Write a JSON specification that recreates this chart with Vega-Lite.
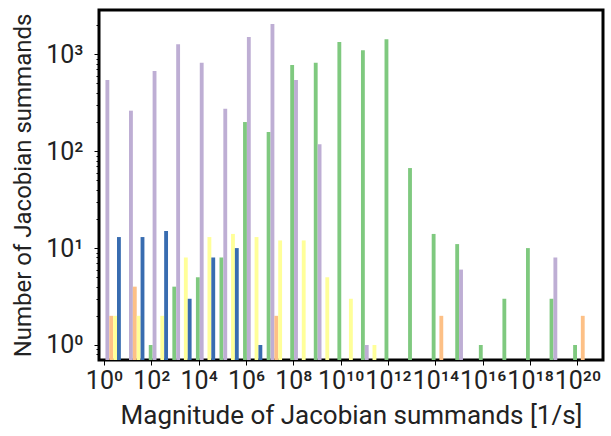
{
  "$schema": "https://vega.github.io/schema/vega-lite/v6.json",
  "width": 504,
  "height": 350,
  "autosize": {"type": "none"},
  "padding": {"left": 99, "top": 10, "right": 8, "bottom": 76},
  "background": "white",
  "config": {
    "view": {"stroke": "black", "strokeWidth": 3},
    "font": "Roboto",
    "axis": {"grid": false, "domain": false, "tickColor": "black", "labelColor": "#222222", "titleColor": "#222222", "labelFontSize": 25, "titleFontSize": 26, "titleFontWeight": "normal", "labelFont": "Roboto", "titleFont": "Roboto"}
  },
  "data": {
    "values": [
      {"series": "purple", "magnitude": 2.02, "count": 543},
      {"series": "orange", "magnitude": 2.02, "count": 2},
      {"series": "yellow", "magnitude": 2.02, "count": 2},
      {"series": "blue", "magnitude": 2.02, "count": 13},
      {"series": "purple", "magnitude": 20.0, "count": 262},
      {"series": "orange", "magnitude": 20.0, "count": 4},
      {"series": "yellow", "magnitude": 20.0, "count": 2},
      {"series": "blue", "magnitude": 20.0, "count": 13},
      {"series": "green", "magnitude": 198.6, "count": 1},
      {"series": "purple", "magnitude": 198.6, "count": 673},
      {"series": "yellow", "magnitude": 198.6, "count": 2},
      {"series": "blue", "magnitude": 198.6, "count": 15},
      {"series": "green", "magnitude": 1968, "count": 4},
      {"series": "purple", "magnitude": 1968, "count": 1268},
      {"series": "yellow", "magnitude": 1968, "count": 8},
      {"series": "blue", "magnitude": 1968, "count": 3},
      {"series": "green", "magnitude": 19500, "count": 5},
      {"series": "purple", "magnitude": 19500, "count": 819},
      {"series": "yellow", "magnitude": 19500, "count": 13},
      {"series": "blue", "magnitude": 19500, "count": 8},
      {"series": "green", "magnitude": 193000, "count": 8},
      {"series": "purple", "magnitude": 193000, "count": 275},
      {"series": "yellow", "magnitude": 193000, "count": 14},
      {"series": "blue", "magnitude": 193000, "count": 10},
      {"series": "green", "magnitude": 1.91e6, "count": 200},
      {"series": "purple", "magnitude": 1.91e6, "count": 1508},
      {"series": "yellow", "magnitude": 1.91e6, "count": 13},
      {"series": "blue", "magnitude": 1.91e6, "count": 1},
      {"series": "green", "magnitude": 1.90e7, "count": 158},
      {"series": "purple", "magnitude": 1.90e7, "count": 2055},
      {"series": "orange", "magnitude": 1.90e7, "count": 2},
      {"series": "yellow", "magnitude": 1.90e7, "count": 12},
      {"series": "green", "magnitude": 1.88e8, "count": 776},
      {"series": "purple", "magnitude": 1.88e8, "count": 543},
      {"series": "yellow", "magnitude": 1.88e8, "count": 12},
      {"series": "green", "magnitude": 1.86e9, "count": 819},
      {"series": "purple", "magnitude": 1.86e9, "count": 118},
      {"series": "yellow", "magnitude": 1.86e9, "count": 5},
      {"series": "green", "magnitude": 1.85e10, "count": 1340},
      {"series": "yellow", "magnitude": 1.85e10, "count": 3},
      {"series": "green", "magnitude": 1.83e11, "count": 1099},
      {"series": "purple", "magnitude": 1.83e11, "count": 1},
      {"series": "yellow", "magnitude": 1.83e11, "count": 1},
      {"series": "green", "magnitude": 1.81e12, "count": 1429},
      {"series": "green", "magnitude": 1.79e13, "count": 67},
      {"series": "green", "magnitude": 1.78e14, "count": 14},
      {"series": "orange", "magnitude": 1.78e14, "count": 2},
      {"series": "green", "magnitude": 1.76e15, "count": 11},
      {"series": "purple", "magnitude": 1.76e15, "count": 6},
      {"series": "green", "magnitude": 1.75e16, "count": 1},
      {"series": "green", "magnitude": 1.73e17, "count": 3},
      {"series": "green", "magnitude": 1.71e18, "count": 10},
      {"series": "green", "magnitude": 1.70e19, "count": 3},
      {"series": "purple", "magnitude": 1.70e19, "count": 8},
      {"series": "green", "magnitude": 1.68e20, "count": 1},
      {"series": "orange", "magnitude": 1.68e20, "count": 2}
    ]
  },
  "encoding": {
    "x": {
      "field": "magnitude", "type": "quantitative",
      "scale": {"type": "log", "domain": [1, 7.4e20], "nice": false},
      "axis": {
        "values": [1, 1e2, 1e4, 1e6, 1e8, 1e10, 1e12, 1e14, 1e16, 1e18, 1e20],
        "labelExpr": "'10' + (round(log(datum.value)/LN10) < 10 ? ['⁰','¹','²','³','⁴','⁵','⁶','⁷','⁸','⁹'][round(log(datum.value)/LN10)] : ['⁰','¹','²','³','⁴','⁵','⁶','⁷','⁸','⁹'][floor(round(log(datum.value)/LN10)/10)] + ['⁰','¹','²','³','⁴','⁵','⁶','⁷','⁸','⁹'][round(log(datum.value)/LN10) % 10])",
        "labelFlush": false,
        "labelOverlap": false,
        "tickSize": 5,
        "labelPadding": 3,
        "title": "Magnitude of Jacobian summands [1/s]",
        "titlePadding": 9
      }
    },
    "y": {
      "field": "count", "type": "quantitative", "stack": null,
      "scale": {"type": "log", "domain": [0.7, 2866], "nice": false},
      "axis": {
        "values": [0.8, 0.9, 1, 2, 3, 4, 5, 6, 7, 8, 9, 10, 20, 30, 40, 50, 60, 70, 80, 90, 100, 200, 300, 400, 500, 600, 700, 800, 900, 1000, 2000],
        "labelExpr": "indexof([1,10,100,1000], datum.value) >= 0 ? '10' + ['⁰','¹','²','³'][round(log(datum.value)/LN10)] : ''",
        "tickSize": {"condition": {"test": "indexof([1,10,100,1000], datum.value) >= 0", "value": 5}, "value": 3},
        "labelOverlap": false,
        "labelPadding": 11,
        "title": "Number of Jacobian summands",
        "titleFontSize": 24,
        "titlePadding": 10
      }
    },
    "color": {
      "field": "series", "type": "nominal",
      "scale": {"domain": ["green", "purple", "orange", "yellow", "blue"], "range": ["#7fc97f", "#beaed4", "#fdc086", "#ffff99", "#386cb0"]},
      "legend": null
    }
  },
  "layer": [
    {"transform": [{"filter": "datum.series == 'green'"}], "mark": {"type": "bar", "clip": true, "size": 3.85, "xOffset": -7.7}},
    {"transform": [{"filter": "datum.series == 'purple'"}], "mark": {"type": "bar", "clip": true, "size": 3.85, "xOffset": -3.85}},
    {"transform": [{"filter": "datum.series == 'orange'"}], "mark": {"type": "bar", "clip": true, "size": 3.85, "xOffset": 0}},
    {"transform": [{"filter": "datum.series == 'yellow'"}], "mark": {"type": "bar", "clip": true, "size": 3.85, "xOffset": 3.85}},
    {"transform": [{"filter": "datum.series == 'blue'"}], "mark": {"type": "bar", "clip": true, "size": 3.85, "xOffset": 7.7}}
  ]
}
